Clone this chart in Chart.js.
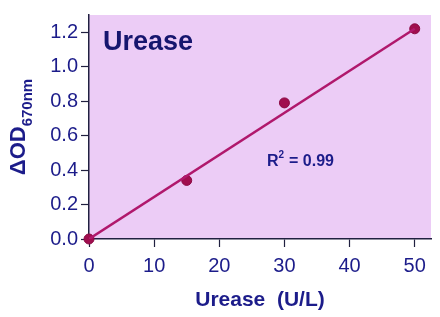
<!DOCTYPE html>
<html>
<head>
<meta charset="utf-8">
<script src="https://cdn.jsdelivr.net/npm/chart.js@4"></script>
<style>
  body { margin: 0; background: #fff; }
  canvas { display: block; }
</style>
</head>
<body>
<canvas id="grafic" width="440" height="317"></canvas>
<script>
const FONT = '"Liberation Sans", Arial, sans-serif';
const NAVY = '#1c1c8a';
const ROSA = '#ecccf6';

// Dades llegides del gràfic
const ureasa = [0, 15, 30, 50];          // U/L
const densitat = [0, 0.34, 0.79, 1.22];  // ΔOD670nm
const rectaX = [0, 50];
const rectaY = [0, 1.22];
const ticksX = [0, 10, 20, 30, 40, 50];
const ticksY = [0, 0.2, 0.4, 0.6, 0.8, 1.0, 1.2];

// Fons rosa de l'àrea del gràfic i textos
const fonsPlugin = {
    id: 'fons',
    beforeDraw(chart) {
        const { ctx, chartArea: a } = chart;
        ctx.save();
        ctx.fillStyle = '#fff';
        ctx.fillRect(0, 0, chart.width, chart.height);
        ctx.fillStyle = ROSA;
        ctx.fillRect(a.left, a.top, a.right - a.left, a.bottom - a.top);
        ctx.restore();
    },
    afterDraw(chart) {
        const { ctx, chartArea: a } = chart;
        ctx.save();
        ctx.fillStyle = '#16166e';
        ctx.textBaseline = 'alphabetic';
        ctx.textAlign = 'left';
        ctx.font = 'bold 27px ' + FONT;
        ctx.fillText('Urease', a.left + 14, a.top + 35);

        ctx.fillStyle = NAVY;
        ctx.font = 'bold 16px ' + FONT;
        ctx.fillText('R', 267, 166);
        const wR = ctx.measureText('R').width;
        ctx.font = 'bold 10px ' + FONT;
        ctx.fillText('2', 267 + wR, 158);
        ctx.font = 'bold 16px ' + FONT;
        ctx.fillText(' = 0.99', 267 + wR + 6, 166);

        // títol eix Y amb subíndex
        ctx.translate(25, (a.top + a.bottom) / 2);
        ctx.rotate(-Math.PI / 2);
        ctx.font = 'bold 22px ' + FONT;
        const t1 = 'ΔOD';
        const w1 = ctx.measureText(t1).width;
        ctx.font = 'bold 15px ' + FONT;
        const t2 = '670nm';
        const w2 = ctx.measureText(t2).width;
        const x0 = -(w1 + w2) / 2;
        ctx.font = 'bold 22px ' + FONT;
        ctx.fillText(t1, x0, 0);
        ctx.font = 'bold 15px ' + FONT;
        ctx.fillText(t2, x0 + w1, 7);
        ctx.restore();
    }
};

new Chart(document.getElementById('grafic'), {
    type: 'scatter',
    data: {
        datasets: [
            {
                label: 'recta',
                data: rectaX.map((x, i) => ({ x, y: rectaY[i] })),
                showLine: true,
                borderColor: '#b0186c',
                borderWidth: 2.5,
                pointRadius: 0
            },
            {
                label: 'Urease',
                data: ureasa.map((x, i) => ({ x, y: densitat[i] })),
                backgroundColor: '#a00e4e',
                borderColor: '#8c0a44',
                borderWidth: 1,
                pointRadius: 5,
                clip: false
            }
        ]
    },
    options: {
        responsive: false,
        animation: false,
        layout: { padding: { top: 10, right: 9, left: 0, bottom: 0 } },
        plugins: {
            legend: { display: false },
            tooltip: { enabled: false }
        },
        scales: {
            x: {
                type: 'linear',
                min: 0,
                max: 52.5,
                afterBuildTicks: s => { s.ticks = ticksX.map(v => ({ value: v })); },
                afterFit: s => { s.height = 78; },
                grid: { drawOnChartArea: false, tickLength: 8, tickColor: '#202040', tickWidth: 1.2 },
                border: { color: '#202040', width: 1.5 },
                ticks: { color: NAVY, padding: 7, font: { family: FONT, size: 20 } },
                title: {
                    display: true,
                    text: 'Urease  (U/L)',
                    color: NAVY,
                    padding: { top: 4 },
                    font: { family: FONT, size: 21, weight: 'bold' }
                }
            },
            y: {
                type: 'linear',
                min: 0,
                max: 1.3,
                afterBuildTicks: s => { s.ticks = ticksY.map(v => ({ value: v })); },
                afterFit: s => { s.width = 89; },
                grid: { drawOnChartArea: false, tickLength: 8, tickColor: '#202040', tickWidth: 1.2 },
                border: { color: '#202040', width: 1.5 },
                ticks: {
                    color: NAVY,
                    padding: 3,
                    font: { family: FONT, size: 20 },
                    callback: v => v.toFixed(1)
                }
            }
        }
    },
    plugins: [fonsPlugin]
});
</script>
</body>
</html>
